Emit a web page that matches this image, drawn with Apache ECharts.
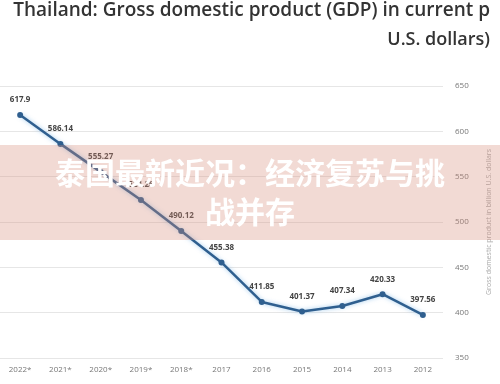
<!DOCTYPE html>
<html>
<head>
<meta charset="utf-8">
<script src="https://cdn.jsdelivr.net/npm/echarts@6/dist/echarts.min.js"></script>
<style>
html,body{margin:0;padding:0;background:#fff;}
#c{width:500px;height:384px;}
</style>
</head>
<body>
<div id="c"></div>
<script>
const titleLine1 = 'Thailand: Gross domestic product (GDP) in current p';
const titleLine2 = 'U.S. dollars)';
const yAxisName = 'Gross domestic product in billion U.S. dollars';
const years = ['2012', '2013', '2014', '2015', '2016', '2017', '2018*', '2019*', '2020*', '2021*', '2022*'];
const gdp = [397.56, 420.33, 407.34, 401.37, 411.85, 455.38, 490.12, 524.26, 555.27, 586.14, 617.9];
const yTicks = { min: 350, max: 650, interval: 50 };
const bannerLine1 = '泰国最新近况：经济复苏与挑';
const bannerLine2 = '战并存';

const chart = echarts.init(document.getElementById('c'), null, { renderer: 'canvas' });
chart.setOption({
  animation: false,
  backgroundColor: '#ffffff',
  grid: { left: 0, right: 56, top: 86, bottom: 26, containLabel: false },
  xAxis: {
    type: 'category',
    data: years,
    inverse: true,
    boundaryGap: true,
    axisLine: { show: false },
    axisTick: { show: false },
    axisLabel: { color: '#777', fontSize: 8, fontFamily: 'Open Sans', margin: 8 },
    splitLine: { show: false }
  },
  yAxis: {
    type: 'value',
    position: 'right',
    min: yTicks.min, max: yTicks.max, interval: yTicks.interval,
    axisLine: { show: false },
    axisTick: { show: false },
    axisLabel: { color: '#777', fontSize: 8, fontFamily: 'Open Sans', margin: 12 },
    splitLine: { lineStyle: { color: '#e6e6e6', width: 1 } },
    name: yAxisName,
    nameLocation: 'middle',
    nameRotate: 90,
    nameGap: 42,
    nameTextStyle: { color: '#aaa', fontSize: 7, fontFamily: 'Open Sans' }
  },
  series: [{
    type: 'line',
    data: gdp,
    symbol: 'circle',
    symbolSize: 6,
    itemStyle: { color: '#2f5f8f' },
    lineStyle: { color: '#2f5f8f', width: 2.5, shadowColor: 'rgba(120,180,230,0.7)', shadowBlur: 4 },
    label: {
      show: true,
      position: 'top',
      distance: 8,
      color: '#444',
      fontSize: 8,
      fontWeight: 'bold',
      fontFamily: 'Open Sans',
      formatter: p => String(p.value)
    }
  }],
  graphic: [
    { type: 'text', right: 10, top: 1, style: { text: titleLine1, fill: '#333', font: '600 19px "Open Sans"', textAlign: 'right' } },
    { type: 'text', right: 10, top: 31, style: { text: titleLine2, fill: '#333', font: '600 18px "Open Sans"', textAlign: 'right' } },
    { type: 'rect', left: 0, top: 145, z: 100, shape: { width: 500, height: 95 }, style: { fill: 'rgba(215,140,120,0.32)' } },
    { type: 'text', left: 'center', top: 158, z: 101, style: { text: bannerLine1, fill: '#ffffff', font: 'bold 30px "Noto Sans CJK SC"', textAlign: 'center' } },
    { type: 'text', left: 'center', top: 197, z: 101, style: { text: bannerLine2, fill: '#ffffff', font: 'bold 30px "Noto Sans CJK SC"', textAlign: 'center' } }
  ]
});
</script>
</body>
</html>
